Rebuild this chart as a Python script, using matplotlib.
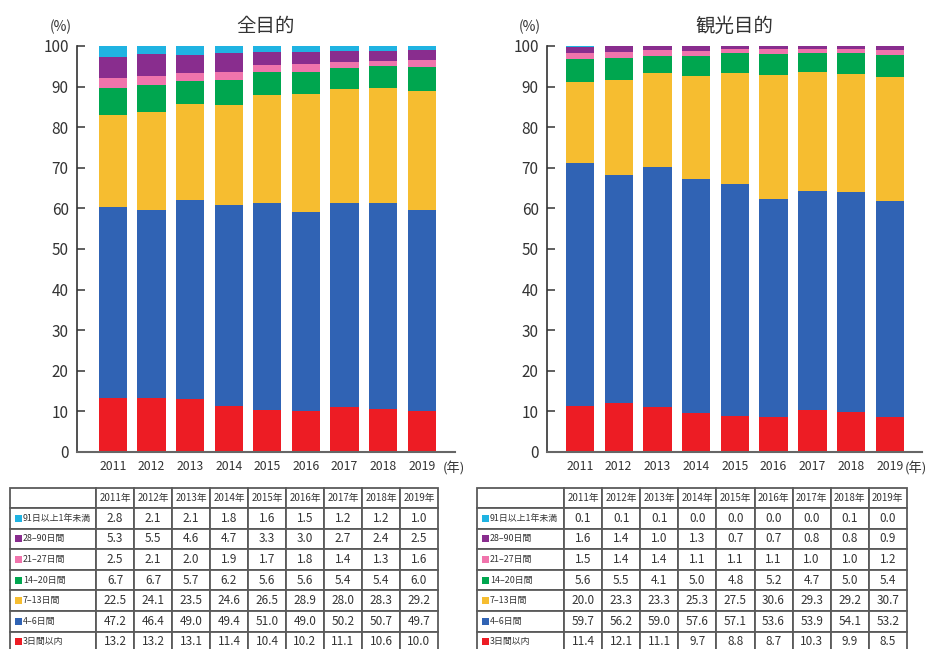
import matplotlib.pyplot as plt
from matplotlib.patches import Rectangle
from matplotlib.table import Table

plt.rcParams['font.family'] = ['Noto Sans CJK JP', 'DejaVu Sans']

years = [2011, 2012, 2013, 2014, 2015, 2016, 2017, 2018, 2019]

# stay length categories, from the bottom of the stack upward
categories = ["3日間以内", "4–6日間", "7–13日間", "14–20日間",
              "21–27日間", "28–90日間", "91日以上1年未満"]
colors = ["#ED1C24", "#3063B4", "#F6BD30", "#00A64F",
          "#F074AC", "#892D8E", "#1FB3E2"]

# 全目的 (all purposes), %
all_3 = [13.2, 13.2, 13.1, 11.4, 10.4, 10.2, 11.1, 10.6, 10.0]
all_4 = [47.2, 46.4, 49.0, 49.4, 51.0, 49.0, 50.2, 50.7, 49.7]
all_7 = [22.5, 24.1, 23.5, 24.6, 26.5, 28.9, 28.0, 28.3, 29.2]
all_14 = [6.7, 6.7, 5.7, 6.2, 5.6, 5.6, 5.4, 5.4, 6.0]
all_21 = [2.5, 2.1, 2.0, 1.9, 1.7, 1.8, 1.4, 1.3, 1.6]
all_28 = [5.3, 5.5, 4.6, 4.7, 3.3, 3.0, 2.7, 2.4, 2.5]
all_91 = [2.8, 2.1, 2.1, 1.8, 1.6, 1.5, 1.2, 1.2, 1.0]

# 観光目的 (sightseeing), %
tour_3 = [11.4, 12.1, 11.1, 9.7, 8.8, 8.7, 10.3, 9.9, 8.5]
tour_4 = [59.7, 56.2, 59.0, 57.6, 57.1, 53.6, 53.9, 54.1, 53.2]
tour_7 = [20.0, 23.3, 23.3, 25.3, 27.5, 30.6, 29.3, 29.2, 30.7]
tour_14 = [5.6, 5.5, 4.1, 5.0, 4.8, 5.2, 4.7, 5.0, 5.4]
tour_21 = [1.5, 1.4, 1.4, 1.1, 1.1, 1.1, 1.0, 1.0, 1.2]
tour_28 = [1.6, 1.4, 1.0, 1.3, 0.7, 0.7, 0.8, 0.8, 0.9]
tour_91 = [0.1, 0.1, 0.1, 0.0, 0.0, 0.0, 0.0, 0.1, 0.0]

all_series = [all_3, all_4, all_7, all_14, all_21, all_28, all_91]
tour_series = [tour_3, tour_4, tour_7, tour_14, tour_21, tour_28, tour_91]

W, H = 934, 649
fig = plt.figure(figsize=(W / 100, H / 100), dpi=100)


def px_axes(x0, y0, x1, y1):
    # axes from pixel box (top-left origin)
    return fig.add_axes([x0 / W, 1 - y1 / H, (x1 - x0) / W, (y1 - y0) / H])


def stacked(ax, series, title, xlim, year_x, pct_x):
    x = list(range(len(years)))
    bottom = [0.0] * len(years)
    for vals, c in zip(series, colors):
        ax.bar(x, vals, bottom=bottom, width=0.73, color=c, linewidth=0)
        bottom = [b + v for b, v in zip(bottom, vals)]
    ax.set_xlim(*xlim)
    ax.set_ylim(0, 100)
    ax.set_yticks(range(0, 101, 10))
    ax.set_xticks(x)
    ax.set_xticklabels([str(y) for y in years], fontsize=8.8, color="#333333")
    ax.tick_params(axis="y", direction="in", length=6, width=1.2,
                   color="#444444", labelsize=11, labelcolor="#333333", pad=6)
    ax.tick_params(axis="x", length=0, pad=6)
    for s in ("top", "right"):
        ax.spines[s].set_visible(False)
    ax.spines["left"].set_color("#333333")
    ax.spines["left"].set_linewidth(1.2)
    ax.spines["bottom"].set_color("#666666")
    ax.spines["bottom"].set_linewidth(1.5)
    ax.set_title(title, fontsize=14, color="#333333", pad=10)
    ax.text(pct_x, 1.03, "(%)", transform=ax.transAxes, fontsize=10,
            color="#333333", ha="right", va="bottom")
    ax.text(year_x, -0.04, "(年)", transform=ax.transAxes, fontsize=9.5,
            color="#333333", ha="left", va="center")


def stay_table(x0, label_w, col_w, series):
    top = 488
    head_h = 20
    row_h = 20.6
    n_rows = len(categories)
    total_w = label_w + col_w * len(years)
    total_h = head_h + row_h * n_rows
    ax = px_axes(x0, top, x0 + total_w, top + total_h)
    ax.set_axis_off()
    tab = Table(ax, bbox=[0, 0, 1, 1])
    fw_label = label_w / total_w
    fw_col = col_w / total_w
    fh_head = head_h / total_h
    fh_row = row_h / total_h
    edge = "#5a5a5a"

    cell = tab.add_cell(0, 0, fw_label, fh_head, text="", loc="left")
    cell.set_edgecolor(edge)
    for j, y in enumerate(years):
        c = tab.add_cell(0, j + 1, fw_col, fh_head, text=f"{y}年", loc="center")
        c.set_edgecolor(edge)
        c.get_text().set_fontsize(7)
        c.get_text().set_color("#333333")

    # rows listed from the longest stay down to the shortest
    order = list(range(n_rows))[::-1]
    for i, k in enumerate(order):
        c = tab.add_cell(i + 1, 0, fw_label, fh_row, text="", loc="left")
        c.set_edgecolor(edge)
        for j in range(len(years)):
            c = tab.add_cell(i + 1, j + 1, fw_col, fh_row,
                             text=f"{series[k][j]:.1f}", loc="center")
            c.set_edgecolor(edge)
            c.get_text().set_fontsize(8.5)
            c.get_text().set_color("#333333")
        yc = 1 - (head_h + row_h * (i + 0.5)) / total_h
        ax.add_patch(Rectangle((5 / total_w, yc - 3.5 / total_h),
                               7 / total_w, 7 / total_h,
                               transform=ax.transAxes, color=colors[k],
                               linewidth=0, zorder=3))
        ax.text(13 / total_w, yc, categories[k], color="#333333",
                fontsize=6.4, transform=ax.transAxes, va="center", ha="left")
    for c in tab.get_celld().values():
        c.set_linewidth(1.3)
    tab.auto_set_font_size(False)
    ax.add_table(tab)


ax1 = px_axes(77, 46, 455, 452)
stacked(ax1, all_series, "全目的", (-0.93, 8.86), 0.968, -0.013)

ax2 = px_axes(547, 46, 922, 452)
stacked(ax2, tour_series, "観光目的", (-0.85, 8.83), 0.953, -0.018)

stay_table(10, 86, 38.0, all_series)
stay_table(477, 87, 38.1, tour_series)

fig.savefig("out.png", dpi=100)
